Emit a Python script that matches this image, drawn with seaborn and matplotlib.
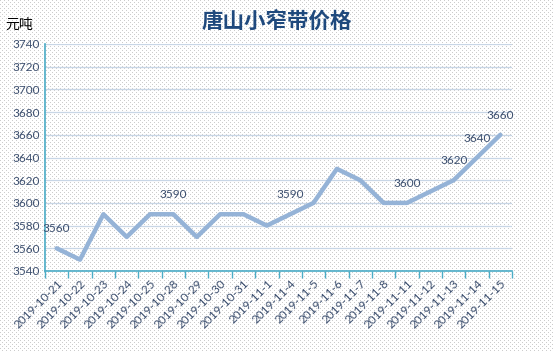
import numpy as np
import matplotlib
matplotlib.use("Agg")
import matplotlib.pyplot as plt
import matplotlib.transforms as mtransforms
import seaborn as sns

dates = ["2019-10-21", "2019-10-22", "2019-10-23", "2019-10-24", "2019-10-25",
         "2019-10-28", "2019-10-29", "2019-10-30", "2019-10-31", "2019-11-1",
         "2019-11-4", "2019-11-5", "2019-11-6", "2019-11-7", "2019-11-8",
         "2019-11-11", "2019-11-12", "2019-11-13", "2019-11-14", "2019-11-15"]
prices = [3560, 3550, 3590, 3570, 3590,
          3590, 3570, 3590, 3590, 3580,
          3590, 3600, 3630, 3620, 3600,
          3600, 3610, 3620, 3640, 3660]
labelled = [0, 5, 10, 15, 17, 18, 19]
y_ticks = list(range(3540, 3741, 20))

sns.set_theme(style="white")
plt.rcParams['font.family'] = ['Lato', 'Noto Sans CJK SC', 'DejaVu Sans']

fig = plt.figure(figsize=(5.54, 3.52), dpi=100)

# dotted background like the original
h, w = 352, 554
bg = np.ones((h, w, 3))
yy, xx = np.mgrid[0:h, 0:w]
dots = ((yy % 4 == 0) & (xx % 4 == 0)) | ((yy % 4 == 2) & (xx % 4 == 2))
bg[dots] = 0.8
fig.figimage(bg, xo=0, yo=0, zorder=-10)

ax = fig.add_axes([45 / 554, 1 - 271 / 352, (512 - 45) / 554, (271 - 44) / 352])
ax.set_facecolor("none")
ax.set_zorder(1)

x = np.arange(len(dates))
sns.lineplot(x=x, y=prices, ax=ax, color="#95b3d7", linewidth=3.2, zorder=3)

ax.set_xlim(-0.5, len(dates) - 0.5)
ax.set_ylim(y_ticks[0], y_ticks[-1])
ax.set_yticks(y_ticks)
ax.set_yticklabels([str(v) for v in y_ticks], color="#3b4e6e", fontsize=8.5)
ax.yaxis.grid(True, color="#c8d6e6", linewidth=0.9)
ax.xaxis.grid(False)

ax.set_xticks(x)
ax.set_xticklabels(dates, rotation=45, ha="right", va="top", rotation_mode="anchor",
                   color="#3b4e6e", fontsize=8.5)
shift = mtransforms.ScaledTranslation(5 / 100, 0, fig.dpi_scale_trans)
for lab in ax.get_xticklabels():
    lab.set_transform(lab.get_transform() + shift)
ax.set_xticks(np.arange(-0.5, len(dates)), minor=True)
ax.tick_params(axis="x", which="major", length=0, pad=5)
ax.tick_params(axis="x", which="minor", length=5, width=1, color="#4bacc6",
               direction="out", bottom=True)
ax.tick_params(axis="y", length=0, pad=4)

for side in ["top", "right"]:
    ax.spines[side].set_visible(False)
for side in ["left", "bottom"]:
    ax.spines[side].set_color("#4bacc6")
    ax.spines[side].set_linewidth(1.2)

for i in labelled:
    ax.annotate(str(prices[i]), (x[i], prices[i]), xytext=(0, 10),
                textcoords="offset points", ha="center", va="bottom",
                color="#3b4e6e", fontsize=8.5, zorder=4)

fig.text(277 / 554, 1 - 22 / 352, "唐山小窄带价格", ha="center", va="center",
         fontsize=15.5, fontweight="bold", color="#1f497d",
         family=['Noto Sans CJK SC', 'DejaVu Sans'])
fig.text(5 / 554, 1 - 25 / 352, "元吨", ha="left", va="center",
         fontsize=10, color="black", family=['Noto Sans CJK SC', 'DejaVu Sans'])

fig.savefig("out.png", dpi=100)
